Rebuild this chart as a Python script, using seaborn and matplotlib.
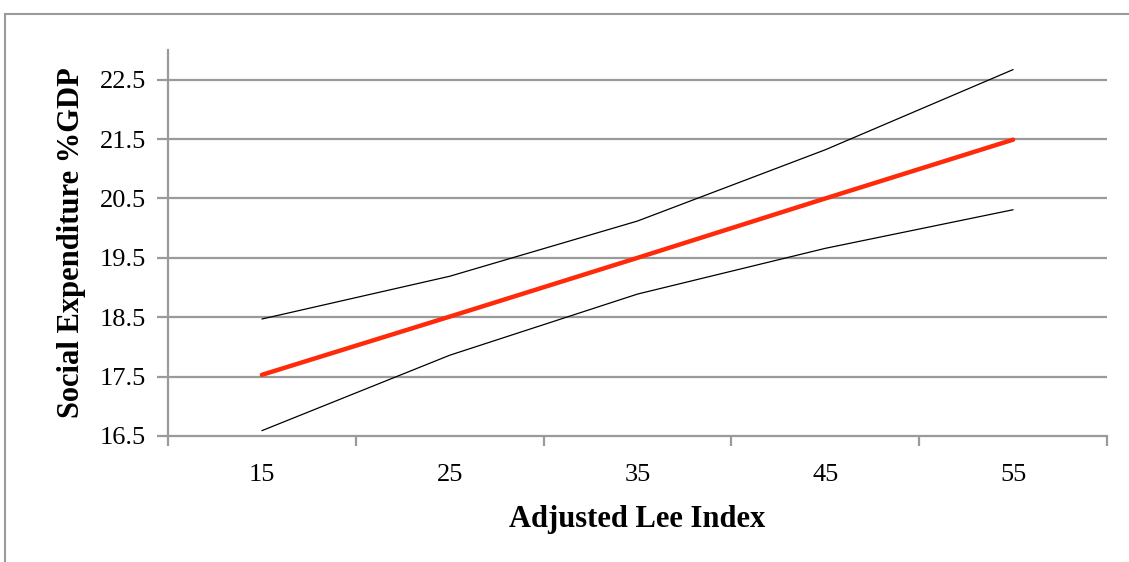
import numpy as np
import pandas as pd
import seaborn as sns
import matplotlib.pyplot as plt
from matplotlib.patches import Rectangle

# values
lee_index = ['15', '25', '35', '45', '55']
predicted = [17.53, 18.51, 19.50, 20.50, 21.49]
upper_ci = [18.47, 19.19, 20.12, 21.32, 22.67]
lower_ci = [16.59, 17.86, 18.89, 19.66, 20.31]
y_ticks = [16.5, 17.5, 18.5, 19.5, 20.5, 21.5, 22.5]

sns.set_theme(style='white')
plt.rcParams['font.family'] = ['Liberation Serif', 'DejaVu Serif']
plt.rcParams['text.color'] = 'black'
plt.rcParams['axes.labelcolor'] = 'black'
plt.rcParams['xtick.labelcolor'] = 'black'
plt.rcParams['ytick.labelcolor'] = 'black'

df = pd.DataFrame({
    'pos': np.arange(len(lee_index)),
    'predicted': predicted,
    'upper': upper_ci,
    'lower': lower_ci,
})

fig = plt.figure(figsize=(11.29, 5.62), dpi=100)
ax = fig.add_axes([168 / 1129, 1 - 436 / 562, (1107 - 168) / 1129, (436 - 50) / 562])

grid_col = '#9a9a9a'
for yv in y_ticks[1:]:
    ax.axhline(yv, color=grid_col, lw=1.6, zorder=0)

sns.lineplot(data=df, x='pos', y='upper', ax=ax, color='black', lw=0.9)
sns.lineplot(data=df, x='pos', y='lower', ax=ax, color='black', lw=0.9)
sns.lineplot(data=df, x='pos', y='predicted', ax=ax, color='#ff2a0a', lw=3.2,
             solid_capstyle='round')

ax.set_xlim(-0.5, len(lee_index) - 0.5)
ax.set_ylim(16.5, 23.0)

# category axis: tick marks between categories, labels at centres
ax.set_xticks(np.arange(-0.5, len(lee_index), 1.0))
ax.set_xticklabels([])
ax.set_xticks(np.arange(len(lee_index)), minor=True)
ax.set_xticklabels(lee_index, minor=True, fontsize=19)
ax.tick_params(axis='x', which='major', length=7, width=1.6, color=grid_col,
               direction='out', bottom=True)
ax.tick_params(axis='x', which='minor', length=0, pad=20)

ax.set_yticks(y_ticks)
ax.set_yticklabels([f'{v:.1f}' for v in y_ticks], fontsize=19)
ax.tick_params(axis='y', length=8, width=1.6, color=grid_col, direction='out',
               left=True, pad=8)

for side in ['top', 'right']:
    ax.spines[side].set_visible(False)
ax.spines['left'].set_color(grid_col)
ax.spines['left'].set_linewidth(1.6)
ax.spines['bottom'].set_color(grid_col)
ax.spines['bottom'].set_linewidth(1.6)

ax.set_xlabel('Adjusted Lee Index', fontsize=22, fontweight='bold', labelpad=14)
ax.set_ylabel('Social Expenditure %GDP', fontsize=22, fontweight='bold', labelpad=10)

# outer chart frame
fig.add_artist(Rectangle((5 / 1129, -0.1), 1.2, 1 - 14 / 562 + 0.1,
                         transform=fig.transFigure, fill=False,
                         edgecolor='#9a9a9a', lw=1.5))

fig.savefig('out.png', dpi=100)
